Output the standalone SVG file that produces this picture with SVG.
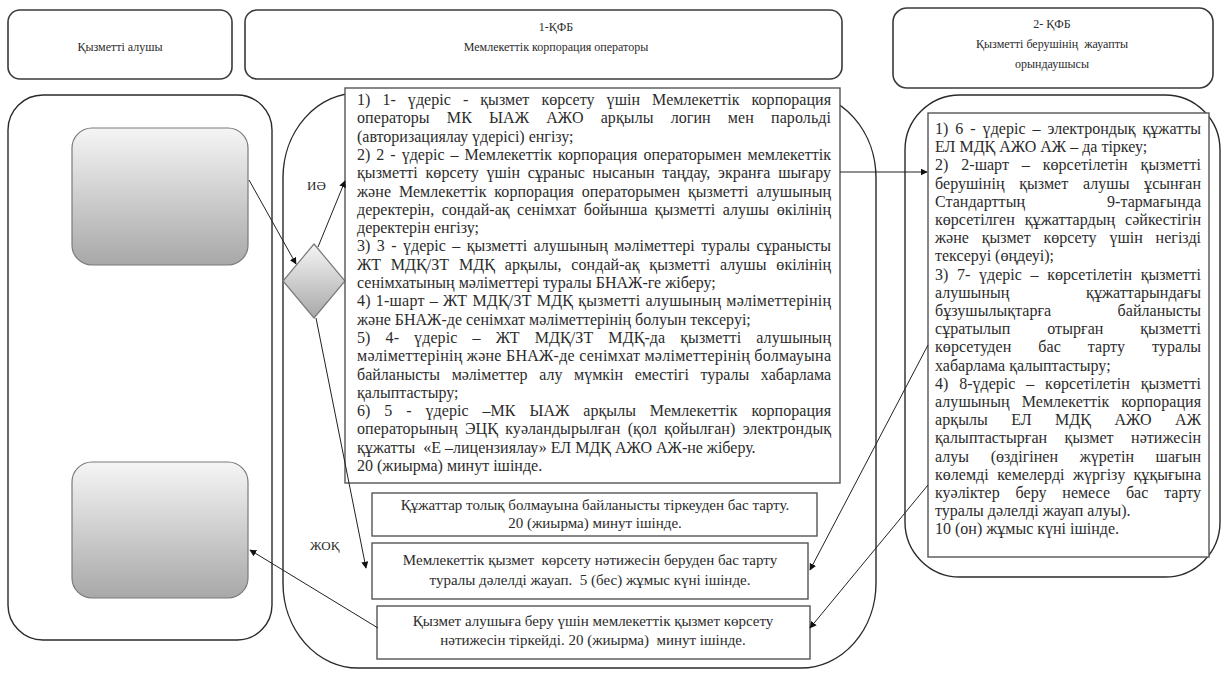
<svg xmlns="http://www.w3.org/2000/svg" width="1224" height="675" viewBox="0 0 1224 675">
<style>
.hdr{fill:#fff;stroke:#3a3a3a;stroke-width:1.6}
.lane{fill:#fff;stroke:#2a2a2a;stroke-width:1.4}
.box{fill:#fff;stroke:#555;stroke-width:1.4}
.t{font-family:"Liberation Serif","Times New Roman","DejaVu Serif",serif;font-size:16px;fill:#2b2b2b}
.h{font-family:"Liberation Serif","Times New Roman","DejaVu Serif",serif;font-size:12px;fill:#2b2b2b;text-anchor:middle}
.s{font-family:"Liberation Serif","Times New Roman","DejaVu Serif",serif;font-size:15px;fill:#2b2b2b;text-anchor:middle}
.lbl{font-family:"Liberation Serif","Times New Roman","DejaVu Serif",serif;font-size:13px;fill:#2b2b2b}
.c{fill:none;stroke:#222;stroke-width:1;marker-end:url(#ah)}
</style>
<defs>
<linearGradient id="gg" x1="0" y1="0" x2="0" y2="1">
<stop offset="0" stop-color="#f5f5f5"/>
<stop offset="1" stop-color="#a8a8a8"/>
</linearGradient>
<marker id="ah" viewBox="0 0 10 10" refX="9" refY="5" markerWidth="7" markerHeight="7" orient="auto" markerUnits="userSpaceOnUse">
<path d="M0,0 L10,5 L0,10 z" fill="#111"/>
</marker>
</defs>

<g id="header1"><rect class="hdr" x="8" y="10" width="224" height="69" rx="12"/><text class="h" x="120" y="51">Қызметті алушы</text></g>
<g id="header2"><rect class="hdr" x="245" y="10" width="597" height="69" rx="12"/><text class="h" x="556" y="31">1-ҚФБ</text><text class="h" x="556" y="51">Мемлекеттік корпорация операторы</text></g>
<g id="header3"><rect class="hdr" x="893" y="8" width="320" height="80" rx="14"/><text class="h" x="1052" y="28">2- ҚФБ</text><text class="h" x="1052" y="48" xml:space="preserve">Қызметті берушінің  жауапты</text><text class="h" x="1052" y="68">орындаушысы</text></g>

<g id="lane-left"><rect class="lane" x="8" y="95" width="264" height="545" rx="35"/></g>
<g id="lane-middle"><rect class="lane" x="283" y="93" width="593" height="575" rx="75" ry="85"/></g>
<g id="lane-right"><rect class="lane" x="905" y="95" width="315" height="482" rx="55"/></g>

<g id="start-box"><rect x="72" y="128" width="176" height="137" rx="20" fill="url(#gg)" stroke="#7a7a7a" stroke-width="1.2"/></g>
<g id="end-box"><rect x="72" y="462" width="176" height="136" rx="20" fill="url(#gg)" stroke="#7a7a7a" stroke-width="1.2"/></g>
<g id="decision"><polygon points="314,244 345,281 314,318 283,281" fill="url(#gg)" stroke="#7a7a7a" stroke-width="1.2"/></g>

<g id="process-main">
<rect class="box" x="345" y="88" width="495" height="395"/>
<text class="t" x="357" y="105" textLength="474" lengthAdjust="spacing" style="word-spacing:8px">1) 1- үдеріс - қызмет көрсету үшін Мемлекеттік корпорация</text>
<text class="t" x="357" y="123.3" textLength="474" lengthAdjust="spacing" style="word-spacing:13px">операторы МК ЫАЖ АЖО арқылы логин мен парольді</text>
<text class="t" x="357" y="141.6">(авторизациялау үдерісі) енгізу;</text>
<text class="t" x="357" y="159.9" textLength="474" lengthAdjust="spacing" style="word-spacing:1.9px">2) 2 - үдеріс – Мемлекеттік корпорация операторымен мемлекеттік</text>
<text class="t" x="357" y="178.2" textLength="474" lengthAdjust="spacing" style="word-spacing:3.6px">қызметті көрсету үшін сұраныс нысанын таңдау, экранға шығару</text>
<text class="t" x="357" y="196.5" textLength="474" lengthAdjust="spacing" style="word-spacing:3.8px">және Мемлекеттік корпорация операторымен қызметті алушының</text>
<text class="t" x="357" y="214.8" textLength="474" lengthAdjust="spacing" style="word-spacing:3.5px">деректерін, сондай-ақ сенімхат бойынша қызметті алушы өкілінің</text>
<text class="t" x="357" y="233.1">деректерін енгізу;</text>
<text class="t" x="357" y="251.4" textLength="474" lengthAdjust="spacing" style="word-spacing:2.4px">3) 3 - үдеріс – қызметті алушының мәліметтері туралы сұранысты</text>
<text class="t" x="357" y="269.7" textLength="474" lengthAdjust="spacing" style="word-spacing:5.7px">ЖТ МДҚ/ЗТ МДҚ арқылы, сондай-ақ қызметті алушы өкілінің</text>
<text class="t" x="357" y="288">сенімхатының мәліметтері туралы БНАЖ-ге жіберу;</text>
<text class="t" x="357" y="306.3" textLength="474" lengthAdjust="spacing" style="word-spacing:0.9px">4) 1-шарт – ЖТ МДҚ/ЗТ МДҚ қызметті алушының мәліметтерінің</text>
<text class="t" x="357" y="324.6">және БНАЖ-де сенімхат мәліметтерінің болуын тексеруі;</text>
<text class="t" x="357" y="342.9" textLength="474" lengthAdjust="spacing" style="word-spacing:11px">5) 4- үдеріс – ЖТ МДҚ/ЗТ МДҚ-да қызметті алушының</text>
<text class="t" x="357" y="361.2" textLength="474" lengthAdjust="spacing">мәліметтерінің және БНАЖ-де сенімхат мәліметтерінің болмауына</text>
<text class="t" x="357" y="379.5" textLength="474" lengthAdjust="spacing" style="word-spacing:7.6px">байланысты мәліметтер алу мүмкін еместігі туралы хабарлама</text>
<text class="t" x="357" y="397.8">қалыптастыру;</text>
<text class="t" x="357" y="416.1" textLength="474" lengthAdjust="spacing" style="word-spacing:9.8px">6) 5 - үдеріс –МК ЫАЖ арқылы Мемлекеттік корпорация</text>
<text class="t" x="357" y="434.4" textLength="474" lengthAdjust="spacing" style="word-spacing:3.3px">операторының ЭЦҚ куәландырылған (қол қойылған) электрондық</text>
<text class="t" x="357" y="452.7" xml:space="preserve">құжатты  «Е –лицензиялау» ЕЛ МДҚ АЖО АЖ-не жіберу.</text>
<text class="t" x="357" y="471">20 (жиырма) минут ішінде.</text>
</g>

<g id="refuse-register">
<rect class="box" x="372" y="493" width="445" height="43"/>
<text class="s" x="595" y="510">Құжаттар толық болмауына байланысты тіркеуден бас тарту.</text>
<text class="s" x="595" y="528">20 (жиырма) минут ішінде.</text>
</g>
<g id="refuse-answer">
<rect class="box" x="372" y="543" width="436" height="56"/>
<text class="s" x="590" y="565" xml:space="preserve">Мемлекеттік қызмет  көрсету нәтижесін беруден бас тарту</text>
<text class="s" x="590" y="585" xml:space="preserve">туралы дәлелді жауап.  5 (бес) жұмыс күні ішінде.</text>
</g>
<g id="register-result">
<rect class="box" x="377" y="606" width="433" height="53"/>
<text class="s" x="593" y="626">Қызмет алушыға беру үшін мемлекеттік қызмет көрсету</text>
<text class="s" x="593" y="645" xml:space="preserve">нәтижесін тіркейді. 20 (жиырма)  минут ішінде.</text>
</g>

<g id="process-right">
<rect class="box" x="928" y="113" width="281" height="444"/>
<text class="t" x="935" y="134" textLength="266" lengthAdjust="spacing" style="word-spacing:2.9px">1) 6 - үдеріс – электрондық құжатты</text>
<text class="t" x="935" y="152.2">ЕЛ МДҚ АЖО АЖ – да тіркеу;</text>
<text class="t" x="935" y="170.4" textLength="266" lengthAdjust="spacing" style="word-spacing:8.9px">2) 2-шарт – көрсетілетін қызметті</text>
<text class="t" x="935" y="188.6" textLength="266" lengthAdjust="spacing" style="word-spacing:10.6px">берушінің қызмет алушы ұсынған</text>
<text class="t" x="935" y="206.8" textLength="266" lengthAdjust="spacing" style="word-spacing:78px">Стандарттың 9-тармағында</text>
<text class="t" x="935" y="225" textLength="266" lengthAdjust="spacing" style="word-spacing:6px">көрсетілген құжаттардың сәйкестігін</text>
<text class="t" x="935" y="243.2" textLength="266" lengthAdjust="spacing" style="word-spacing:8.8px">және қызмет көрсету үшін негізді</text>
<text class="t" x="935" y="261.4">тексеруі (өңдеуі);</text>
<text class="t" x="935" y="279.6" textLength="266" lengthAdjust="spacing" style="word-spacing:4.7px">3) 7- үдеріс – көрсетілетін қызметті</text>
<text class="t" x="935" y="297.8" textLength="266" lengthAdjust="spacing" style="word-spacing:72.8px">алушының құжаттарындағы</text>
<text class="t" x="935" y="316" textLength="266" lengthAdjust="spacing" style="word-spacing:62.4px">бұзушылықтарға байланысты</text>
<text class="t" x="935" y="334.2" textLength="266" lengthAdjust="spacing" style="word-spacing:32.7px">сұратылып отырған қызметті</text>
<text class="t" x="935" y="352.4" textLength="266" lengthAdjust="spacing" style="word-spacing:23px">көрсетуден бас тарту туралы</text>
<text class="t" x="935" y="370.6">хабарлама қалыптастыру;</text>
<text class="t" x="935" y="388.8" textLength="266" lengthAdjust="spacing" style="word-spacing:6.9px">4) 8-үдеріс – көрсетілетін қызметті</text>
<text class="t" x="935" y="407" textLength="266" lengthAdjust="spacing" style="word-spacing:7.9px">алушының Мемлекеттік корпорация</text>
<text class="t" x="935" y="425.2" textLength="266" lengthAdjust="spacing" style="word-spacing:19.2px">арқылы ЕЛ МДҚ АЖО АЖ</text>
<text class="t" x="935" y="443.4" textLength="266" lengthAdjust="spacing" style="word-spacing:13.4px">қалыптастырған қызмет нәтижесін</text>
<text class="t" x="935" y="461.6" textLength="266" lengthAdjust="spacing" style="word-spacing:17.6px">алуы (өздігінен жүретін шағын</text>
<text class="t" x="935" y="479.8" textLength="266" lengthAdjust="spacing" style="word-spacing:4.4px">көлемді кемелерді жүргізу құқығына</text>
<text class="t" x="935" y="498" textLength="266" lengthAdjust="spacing" style="word-spacing:11.9px">куәліктер беру немесе бас тарту</text>
<text class="t" x="935" y="516.2">туралы дәлелді жауап алуы).</text>
<text class="t" x="935" y="534.4">10 (он) жұмыс күні ішінде.</text>
</g>

<g id="connectors">
<line class="c" x1="249" y1="180" x2="296" y2="264"/>
<line class="c" x1="318" y1="247" x2="345" y2="181"/>
<line class="c" x1="316" y1="318" x2="366" y2="568"/>
<line class="c" x1="378" y1="628" x2="250" y2="550"/>
<line class="c" x1="840" y1="172" x2="927" y2="172"/>
<line class="c" x1="928" y1="345" x2="810" y2="570"/>
<line class="c" x1="928" y1="485" x2="810" y2="628"/>
</g>

<g id="labels">
<text class="lbl" x="307" y="190">ИӘ</text>
<text class="lbl" x="310" y="550">ЖОҚ</text>
</g>
</svg>
